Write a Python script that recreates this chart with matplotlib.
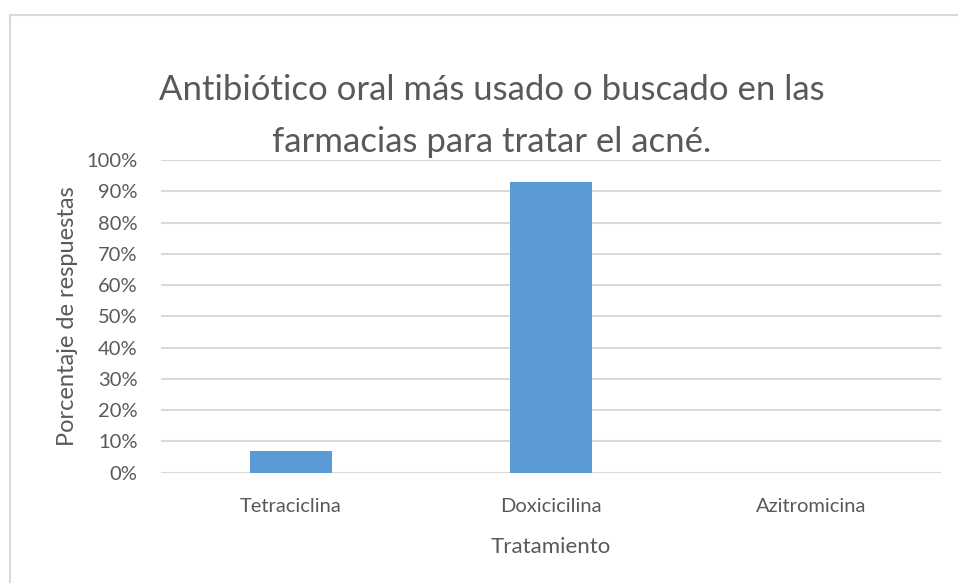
import matplotlib.pyplot as plt
from matplotlib.patches import Rectangle

categorias = ['Tetraciclina', 'Doxicicilina', 'Azitromicina']
porcentajes = [0.07, 0.93, 0.0]
yticks = [i / 10 for i in range(11)]
ytick_labels = ['%d%%' % (t * 10) for t in range(11)]

plt.rcParams['font.family'] = ['Lato', 'DejaVu Sans']
gris = '#595959'

fig = plt.figure(figsize=(9.58, 5.83), dpi=100)
fig.patches.append(Rectangle((10 / 958, -0.1), 1.2, 1.1 - 15 / 583,
                             transform=fig.transFigure, fill=False,
                             edgecolor='#d9d9d9', linewidth=1.5))

ax = fig.add_axes([161 / 958, 110.3 / 583, 780 / 958, 312.7 / 583])
x = range(len(categorias))
ax.bar(x, porcentajes, width=0.316, color='#5b9bd5', zorder=3)
ax.set_xlim(-0.5, 2.5)
ax.set_ylim(0, 1)
ax.set_yticks(yticks)
ax.set_yticklabels(ytick_labels)
ax.set_xticks(list(x))
ax.set_xticklabels(categorias)
ax.yaxis.grid(True, color='#d9d9d9', linewidth=1.5, zorder=0)
for s in ax.spines.values():
    s.set_visible(False)
ax.tick_params(length=0, labelsize=14.5, colors=gris)
ax.tick_params(axis='x', pad=18)
ax.tick_params(axis='y', pad=17)

ax.set_xlabel('Tratamiento', fontsize=16, color=gris, labelpad=16)
ax.set_ylabel('Porcentaje de respuestas', fontsize=17, color=gris, labelpad=6)

fig.text(492 / 958, 1 - 116 / 583,
         'Antibiótico oral más usado o buscado en las\nfarmacias para tratar el acné.',
         ha='center', va='center', fontsize=25, color=gris, linespacing=1.75)

fig.savefig('out.png', dpi=100)
